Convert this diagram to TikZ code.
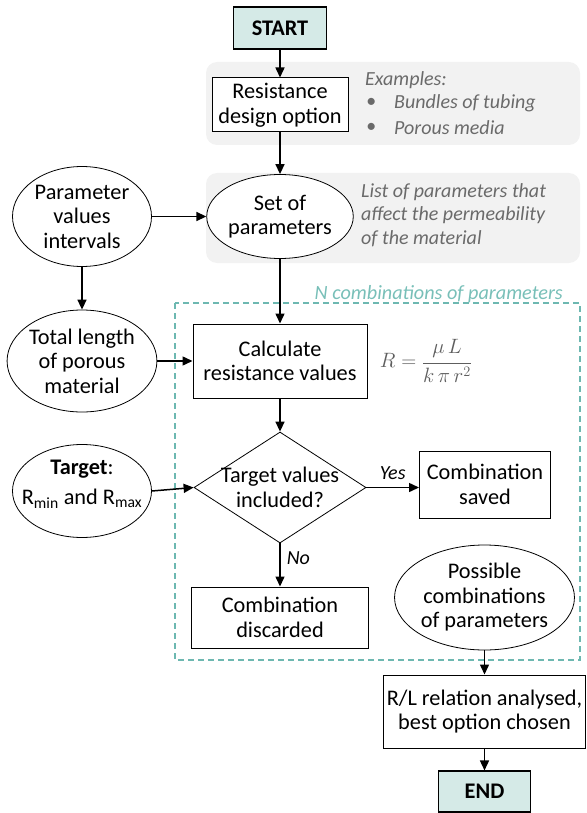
\documentclass[tikz,border=0pt]{standalone}
\usepackage{fontspec}
\setmainfont{Carlito}
\usetikzlibrary{shapes.geometric,arrows.meta,calc}
\definecolor{teallight}{HTML}{D5EAE7}
\definecolor{tealline}{HTML}{6DB8B1}
\definecolor{teallabel}{HTML}{78BFB8}
\definecolor{graytext}{HTML}{6A6A6A}
\definecolor{formulagray}{HTML}{5E5E5E}
\definecolor{bandgray}{HTML}{F2F2F2}
\begin{document}
\begin{tikzpicture}[x=1pt,y=-1pt,
  every node/.style={font=\fontsize{22.3}{24.5}\selectfont},
  boxnode/.style={draw=black, line width=1pt, inner sep=0pt, align=center},
  ellnode/.style={draw=black, ellipse, line width=0.8pt, inner sep=0pt, align=center},
  termnode/.style={draw=black, line width=1.1pt, fill=teallight, inner sep=0pt, font=\fontsize{22.3}{24.5}\selectfont\bfseries},
  band/.style={fill=bandgray, rounded corners=11pt},
  note/.style={font=\fontsize{20}{23.3}\selectfont\itshape, text=graytext, align=left, inner sep=0pt},
  arr/.style={line width=1.5pt, -{Triangle[length=10pt,width=9pt]}},
  lbl/.style={font=\fontsize{20}{23}\selectfont\itshape, inner sep=0pt}
]
\useasboundingbox (0,0) rectangle (586,813);
% background bands
\fill[band] (206,62) rectangle (580,145);
\fill[band] (206,173) rectangle (580,263);
% dashed frame
\draw[tealline, line width=1.5pt, dash pattern=on 6pt off 4pt] (175,303) rectangle (580,660);
\node[anchor=east, inner sep=0pt, text=teallabel, font=\fontsize{20.2}{23}\selectfont\itshape] (nlabel) at (563,294) {N combinations of parameters};

% main column
\node[termnode, minimum width=93pt, minimum height=42pt] (start) at (280,28) {START};
\node[boxnode, fill=white, minimum width=136pt, minimum height=54pt] (res) at (280,105) {Resistance\\design option};
\node[note, anchor=west] (examples) at (365,80) {Examples:};
\node[note, anchor=west] (b1dot) at (366,103) {\textbullet};
\node[note, anchor=west] (b1) at (394,103) {Bundles of tubing};
\node[note, anchor=west] (b2dot) at (366,128) {\textbullet};
\node[note, anchor=west] (b2) at (394,128) {Porous media};

\node[ellnode, fill=white, minimum width=117pt, minimum height=84pt] (set) at (280,216.5) {Set of\\parameters};
\node[note, anchor=west] (list) at (361,215) {List of parameters that\\affect the permeability\\of the material};

\node[ellnode, minimum width=139pt, minimum height=100pt] (pvi) at (82,216.5) {Parameter\\values\\intervals};
\node[ellnode, minimum width=139pt, minimum height=102pt] (tot) at (82,361) {Total length\\of porous\\material};

\node[boxnode, minimum width=174pt, minimum height=74pt] (calc) at (280,361) {Calculate\\resistance values};
\node[inner sep=0pt, text=formulagray] (formula) at (426,361) {$\displaystyle R=\frac{\mu\,L}{k\,\pi\,r^{2}}$};

\node[ellnode, minimum width=139pt, minimum height=93pt] (target) at (82,491) {};
\node[align=center, inner sep=0pt, font=\fontsize{22.3}{30}\selectfont] (targettext) at (82,484) {\textbf{Target}:\\R\textsubscript{min} and R\textsubscript{max}};

\node[diamond, draw=black, line width=0.8pt, minimum width=172pt, minimum height=111pt, inner sep=0pt] (diam) at (280,487.5) {};
\node[align=center, inner sep=0pt] (diamtext) at (diam.center) {Target values\\included?};

\node[boxnode, minimum width=131pt, minimum height=67pt] (saved) at (485,484.5) {Combination\\saved};
\node[boxnode, minimum width=177pt, minimum height=61pt] (disc) at (280,617.5) {Combination\\discarded};
\node[ellnode, minimum width=162pt, minimum height=105pt] (poss) at (484.5,597.5) {Possible\\combinations\\of parameters};

\node[boxnode, minimum width=202pt, minimum height=73pt] (rl) at (484.5,711.5) {R/L relation analysed,\\best option chosen};
\node[termnode, minimum width=92pt, minimum height=41pt] (end) at (484.5,791.5) {END};

% connectors
\draw[arr] (start) -- (res);
\draw[arr] (res) -- (set);
\draw[arr] (pvi) -- (set);
\draw[arr] (pvi) -- (tot);
\draw[arr] (set) -- (calc);
\draw[arr] (tot) -- (calc);
\draw[arr] (calc) -- (diam);
\draw[arr] (target.east) -- (diam.west);
\draw[arr] (diam.east) -- (diam.east -| saved.west) node[lbl, midway, above=7pt] (yes) {Yes};
\draw[arr] (diam.south) -- (disc.north) node[lbl, pos=0.35, right=6pt] (no) {No};
\draw[arr] (poss) -- (rl);
\draw[arr] (rl) -- (end);
\end{tikzpicture}
\end{document}
